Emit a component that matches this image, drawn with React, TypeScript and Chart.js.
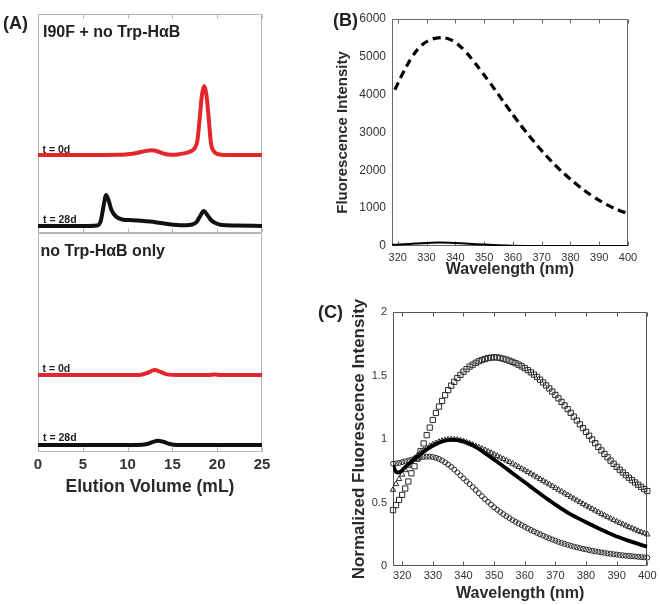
import React, { useEffect, useRef } from 'react';
import { Chart, registerables } from 'chart.js';
Chart.register(...registerables);

const FONT = '"Liberation Sans", Arial, Helvetica, sans-serif';

// ---------- Panel A (elution profiles) ----------
const elutionTicks = [0, 5, 10, 15, 20, 25];
const redTopX = [0, 5, 9, 10, 11, 12, 12.7, 13.4, 14.1, 14.8, 15.6, 16.3, 17.0, 17.5, 17.8, 18.05, 18.3, 18.55, 18.8, 19.05, 19.3, 19.6, 20.0, 21, 25];
const redTopY = [78, 78, 78.2, 78.8, 80, 82, 82.8, 81.5, 79.2, 78.3, 78.6, 79.6, 81.5, 85, 93, 115, 138, 147, 138, 115, 90, 82, 79, 78, 78];
const blackTopX = [0, 5, 6.6, 7.0, 7.3, 7.6, 7.9, 8.2, 8.7, 9.4, 10.5, 11.5, 12.5, 13.5, 14.5, 15.5, 16.5, 17.2, 17.7, 18.1, 18.5, 18.9, 19.3, 19.8, 20.5, 22, 25];
const blackTopY = [7, 7, 7.5, 12, 26, 38, 32, 23, 16.5, 13.5, 12.8, 12.3, 11.5, 10.3, 9, 8, 7.8, 8.5, 11, 17, 22, 18, 13, 10, 8, 7.5, 7];
const redBottomX = [0, 10, 11.5, 12.3, 13.0, 13.7, 14.4, 15.5, 19, 19.7, 20.4, 25];
const redBottomY = [77, 77, 77.3, 79.5, 82, 80, 77.6, 77, 77, 77.6, 77, 77];
const blackBottomX = [0, 11, 12.2, 12.8, 13.4, 14.0, 14.7, 15.5, 25];
const blackBottomY = [7, 7, 8, 10, 11.3, 10.2, 8, 7, 7];

// ---------- Panel B (fluorescence intensity) ----------
const wavelengthTicks = [320, 330, 340, 350, 360, 370, 380, 390, 400];
const bDashedX = [319, 322, 325, 328, 331, 334, 337, 340, 343, 346, 349, 352, 355, 358, 361, 364, 367, 370, 373, 376, 379, 382, 385, 388, 391, 394, 397, 400];
const bDashedY = [4130, 4600, 5000, 5280, 5440, 5500, 5490, 5380, 5180, 4920, 4620, 4320, 4000, 3680, 3370, 3070, 2790, 2520, 2270, 2040, 1830, 1640, 1460, 1300, 1160, 1040, 940, 860];
const bSolidX = [318, 322, 326, 330, 334, 338, 342, 346, 350, 355, 360, 370, 400];
const bSolidY = [30, 45, 65, 82, 90, 85, 72, 55, 38, 20, 8, 2, 0];

// ---------- Panel C (normalized fluorescence) ----------
const cWavelengths = [
  317, 318, 319, 320, 321, 322, 323, 324, 325, 326,
  327, 328, 329, 330, 331, 332, 333, 334, 335, 336,
  337, 338, 339, 340, 341, 342, 343, 344, 345, 346,
  347, 348, 349, 350, 351, 352, 353, 354, 355, 356,
  357, 358, 359, 360, 361, 362, 363, 364, 365, 366,
  367, 368, 369, 370, 371, 372, 373, 374, 375, 376,
  377, 378, 379, 380, 381, 382, 383, 384, 385, 386,
  387, 388, 389, 390, 391, 392, 393, 394, 395, 396,
  397, 398, 399, 400,
];
const cSquares = [
  0.44, 0.48, 0.52, 0.56, 0.61, 0.665, 0.73, 0.785, 0.845, 0.905,
  0.965, 1.03, 1.09, 1.15, 1.205, 1.255, 1.30, 1.345, 1.385, 1.42,
  1.45, 1.48, 1.505, 1.53, 1.55, 1.57, 1.585, 1.60, 1.612, 1.622,
  1.63, 1.637, 1.641, 1.643, 1.642, 1.638, 1.632, 1.625, 1.617, 1.607,
  1.597, 1.585, 1.572, 1.558, 1.542, 1.525, 1.507, 1.488, 1.467, 1.445,
  1.422, 1.398, 1.373, 1.347, 1.32, 1.292, 1.264, 1.235, 1.206, 1.176,
  1.146, 1.116, 1.086, 1.056, 1.026, 0.996, 0.967, 0.938, 0.91, 0.883,
  0.856, 0.83, 0.805, 0.781, 0.758, 0.736, 0.715, 0.695, 0.676, 0.658,
  0.64, 0.623, 0.606, 0.59,
];
const cTriangles = [
  0.60, 0.645, 0.685, 0.72, 0.755, 0.79, 0.82, 0.848, 0.872, 0.893,
  0.912, 0.928, 0.944, 0.957, 0.968, 0.978, 0.986, 0.992, 0.996, 0.998,
  0.997, 0.994, 0.989, 0.982, 0.974, 0.965, 0.955, 0.945, 0.935, 0.924,
  0.913, 0.902, 0.891, 0.879, 0.867, 0.855, 0.843, 0.831, 0.819, 0.806,
  0.793, 0.78, 0.767, 0.754, 0.74, 0.727, 0.713, 0.699, 0.685, 0.671,
  0.657, 0.643, 0.629, 0.615, 0.601, 0.587, 0.573, 0.559, 0.545, 0.531,
  0.517, 0.503, 0.489, 0.476, 0.463, 0.45, 0.437, 0.424, 0.411, 0.399,
  0.387, 0.375, 0.363, 0.351, 0.34, 0.329, 0.318, 0.307, 0.297, 0.287,
  0.277, 0.267, 0.258, 0.249,
];
const cCircles = [
  0.805, 0.808, 0.812, 0.818, 0.824, 0.83, 0.837, 0.844, 0.85, 0.855,
  0.859, 0.861, 0.861, 0.858, 0.852, 0.843, 0.831, 0.816, 0.799, 0.78,
  0.759, 0.737, 0.713, 0.69, 0.667, 0.645, 0.622, 0.598, 0.574, 0.55,
  0.527, 0.505, 0.483, 0.462, 0.443, 0.425, 0.408, 0.392, 0.377, 0.362,
  0.348, 0.335, 0.322, 0.309, 0.296, 0.284, 0.272, 0.261, 0.25, 0.239,
  0.228, 0.218, 0.208, 0.199, 0.19, 0.182, 0.174, 0.167, 0.16, 0.153,
  0.147, 0.141, 0.135, 0.13, 0.125, 0.12, 0.115, 0.111, 0.107, 0.103,
  0.099, 0.096, 0.093, 0.09, 0.087, 0.084, 0.081, 0.079, 0.077, 0.075,
  0.072, 0.07, 0.068, 0.066,
];
const cLine = [
  0.79, 0.74, 0.735, 0.755, 0.778, 0.80, 0.822, 0.843, 0.863, 0.882,
  0.90, 0.917, 0.933, 0.947, 0.96, 0.971, 0.98, 0.987, 0.991, 0.993,
  0.993, 0.991, 0.987, 0.981, 0.973, 0.963, 0.951, 0.937, 0.922, 0.906,
  0.889, 0.872, 0.855, 0.838, 0.821, 0.803, 0.785, 0.767, 0.749, 0.731,
  0.713, 0.695, 0.677, 0.659, 0.641, 0.623, 0.605, 0.587, 0.569, 0.551,
  0.534, 0.517, 0.5, 0.483, 0.467, 0.451, 0.436, 0.421, 0.407, 0.394,
  0.381, 0.369, 0.357, 0.345, 0.333, 0.321, 0.309, 0.297, 0.286, 0.275,
  0.264, 0.253, 0.243, 0.233, 0.224, 0.215, 0.206, 0.198, 0.19, 0.182,
  0.174, 0.166, 0.159, 0.152,
];

const pts = (xs: number[], ys: number[]) => xs.map((x, i) => ({ x, y: ys[i] }));

const RED = '#e3262b';
const BLACK = '#111111';

const framePlugin = {
  id: 'frame',
  beforeDatasetsDraw(chart: any, _args: any, opts: any) {
    if (!opts || !opts.on) return;
    const { ctx, chartArea: a } = chart;
    const xs = chart.scales.x;
    const l = Math.round(a.left) + 0.5;
    const r = Math.round(a.right) - 0.5;
    const t = Math.round(a.top) + 0.5;
    const b = Math.round(a.bottom) - 0.5;
    ctx.save();
    ctx.strokeStyle = opts.color;
    ctx.lineWidth = 1;
    ctx.beginPath();
    if (opts.top) { ctx.moveTo(l, t); ctx.lineTo(r, t); }
    if (opts.bottom) { ctx.moveTo(l, b); ctx.lineTo(r, b); }
    ctx.moveTo(l, t); ctx.lineTo(l, b);
    ctx.moveTo(r, t); ctx.lineTo(r, b);
    const len = opts.len || 4;
    (opts.ticks || []).forEach((v: number) => {
      const x = Math.round(xs.getPixelForValue(v)) + 0.5;
      if (opts.tickTop) { ctx.moveTo(x, t); ctx.lineTo(x, t + len); }
      if (opts.tickBottom) { ctx.moveTo(x, b); ctx.lineTo(x, b - len); }
    });
    ctx.stroke();
    ctx.restore();
  },
};

const lineDs = (data: any[], color: string, width: number, extra: any = {}) => ({
  data,
  borderColor: color,
  borderWidth: width,
  pointRadius: 0,
  fill: false,
  cubicInterpolationMode: 'monotone',
  borderJoinStyle: 'round',
  ...extra,
});

const baseOpts = (padding: any) => ({
  responsive: false,
  maintainAspectRatio: false,
  animation: false,
  devicePixelRatio: 1,
  layout: { padding },
  events: [],
});

const plainNum = (v: any) => String(v);

function makeA(canvas: HTMLCanvasElement, bottom: boolean) {
  const datasets = bottom
    ? [lineDs(pts(redBottomX, redBottomY), RED, 4), lineDs(pts(blackBottomX, blackBottomY), BLACK, 4)]
    : [lineDs(pts(redTopX, redTopY), RED, 4), lineDs(pts(blackTopX, blackTopY), BLACK, 4)];
  const xScale: any = bottom
    ? {
        type: 'linear', min: 0, max: 25,
        display: true,
        grid: { display: false, drawTicks: false },
        border: { display: false },
        ticks: { stepSize: 5, padding: 4, color: '#333', font: { family: FONT, size: 15, weight: 'bold' }, maxRotation: 0, autoSkip: false },
        title: { display: true, text: 'Elution Volume (mL)', color: '#2a2a2a', padding: 0, font: { family: FONT, size: 17.5, weight: 'bold' } },
        afterFit: (s: any) => { s.height = 46; },
      }
    : { type: 'linear', min: 0, max: 25, display: false };
  return new Chart(canvas, {
    type: 'line',
    data: { datasets } as any,
    options: {
      ...baseOpts(bottom ? { left: 38, top: 233, right: 398, bottom: 107 } : { left: 38, top: 14, right: 398, bottom: 372 }),
      plugins: {
        legend: { display: false },
        tooltip: { enabled: false },
        frame: { on: true, color: '#b5b5b5', top: true, bottom: true, ticks: elutionTicks, tickTop: !bottom, tickBottom: true, len: 4 },
      },
      scales: {
        x: xScale,
        y: { type: 'linear', min: 0, max: 219, display: false },
      },
    } as any,
    plugins: [framePlugin as any],
  });
}

function makeB(canvas: HTMLCanvasElement) {
  return new Chart(canvas, {
    type: 'line',
    data: {
      datasets: [
        lineDs(pts(bDashedX, bDashedY), '#000', 3.2, { borderDash: [8, 5], cubicInterpolationMode: 'default', tension: 0.4 }),
        lineDs(pts(bSolidX, bSolidY), '#000', 2),
      ],
    } as any,
    options: {
      ...baseOpts({ left: 334, top: 19, right: 32, bottom: 326 }),
      plugins: {
        legend: { display: false },
        tooltip: { enabled: false },
        frame: { on: true, color: '#666', top: true, bottom: true, ticks: wavelengthTicks, tickTop: true, tickBottom: true, len: 4 },
      },
      scales: {
        x: {
          type: 'linear', min: 318, max: 400,
          grid: { display: false, drawTicks: false },
          border: { display: false },
          ticks: { stepSize: 10, includeBounds: false, padding: 5, color: '#333', font: { family: FONT, size: 11 }, maxRotation: 0, autoSkip: false, callback: plainNum },
          title: { display: true, text: 'Wavelength (nm)', color: '#2a2a2a', padding: 0, font: { family: FONT, size: 16, weight: 'bold' } },
          afterFit: (s: any) => { s.height = 33; },
        },
        y: {
          type: 'linear', min: 0, max: 6000,
          grid: { display: false, drawTicks: false },
          border: { display: false },
          ticks: { stepSize: 1000, padding: 6, color: '#333', font: { family: FONT, size: 12 }, callback: plainNum },
          title: { display: true, text: 'Fluorescence Intensity', color: '#2a2a2a', padding: 0, font: { family: FONT, size: 15, weight: 'bold' } },
          afterFit: (s: any) => { s.width = 58; },
        },
      },
    } as any,
    plugins: [framePlugin as any],
  });
}

function makeC(canvas: HTMLCanvasElement) {
  const marker = (ys: number[], style: string, r: number) => ({
    data: pts(cWavelengths, ys),
    showLine: false,
    pointStyle: style,
    pointRadius: r,
    pointBorderWidth: 1,
    pointBorderColor: '#2a2a2a',
    pointBackgroundColor: 'rgba(0,0,0,0)',
    borderColor: '#2a2a2a',
    backgroundColor: 'rgba(0,0,0,0)',
    clip: false,
  });
  return new Chart(canvas, {
    type: 'line',
    data: {
      datasets: [
        lineDs(pts(cWavelengths, cLine), '#000', 3.8, { cubicInterpolationMode: 'default', tension: 0 }),
        marker(cCircles, 'circle', 2.5),
        marker(cTriangles, 'triangle', 3.1),
        marker(cSquares, 'rect', 3.7),
      ],
    } as any,
    options: {
      ...baseOpts({ left: 349, top: 312, right: 10, bottom: 2 }),
      plugins: {
        legend: { display: false },
        tooltip: { enabled: false },
        frame: { on: true, color: '#555', top: true, bottom: true, ticks: wavelengthTicks, tickTop: true, tickBottom: true, len: 4 },
      },
      scales: {
        x: {
          type: 'linear', min: 317, max: 400,
          grid: { display: false, drawTicks: false },
          border: { display: false },
          ticks: { stepSize: 10, includeBounds: false, padding: 3.5, color: '#333', font: { family: FONT, size: 11 }, maxRotation: 0, autoSkip: false, callback: plainNum },
          title: { display: true, text: 'Wavelength (nm)', color: '#2a2a2a', padding: 0, font: { family: FONT, size: 16, weight: 'bold' } },
          afterFit: (s: any) => { s.height = 37; },
        },
        y: {
          type: 'linear', min: 0, max: 2,
          grid: { display: false, drawTicks: false },
          border: { display: false },
          ticks: { stepSize: 0.5, padding: 6, color: '#333', font: { family: FONT, size: 11 }, callback: plainNum },
          title: { display: true, text: 'Normalized Fluorescence Intensity', color: '#2a2a2a', padding: 0, font: { family: FONT, size: 17, weight: 'bold' } },
          afterFit: (s: any) => { s.width = 44; },
        },
      },
    } as any,
    plugins: [framePlugin as any],
  });
}

const Txt = ({ x, base, size, bold = true, children }: any) => (
  <div
    style={{
      position: 'absolute', left: x, top: base - 0.8465 * size, height: size,
      fontSize: size, lineHeight: `${size}px`, fontWeight: bold ? 'bold' : 'normal',
      fontFamily: FONT, whiteSpace: 'nowrap', color: '#222',
    }}
  >
    {children}
  </div>
);

const canvasStyle: React.CSSProperties = { position: 'absolute', left: 0, top: 0, width: 660, height: 605 };

export default function App() {
  const aTop = useRef<HTMLCanvasElement>(null);
  const aBot = useRef<HTMLCanvasElement>(null);
  const bRef = useRef<HTMLCanvasElement>(null);
  const cRef = useRef<HTMLCanvasElement>(null);

  useEffect(() => {
    const charts = [
      makeA(aTop.current!, false),
      makeA(aBot.current!, true),
      makeB(bRef.current!),
      makeC(cRef.current!),
    ];
    return () => charts.forEach((c) => c.destroy());
  }, []);

  return (
    <div style={{ position: 'absolute', left: 0, top: 0, width: 660, height: 605, background: '#fff', overflow: 'hidden' }}>
      <canvas ref={aTop} width={660} height={605} style={canvasStyle} />
      <canvas ref={aBot} width={660} height={605} style={canvasStyle} />
      <canvas ref={bRef} width={660} height={605} style={canvasStyle} />
      <canvas ref={cRef} width={660} height={605} style={canvasStyle} />
      <Txt x={3} base={29.5} size={18}>(A)</Txt>
      <Txt x={333} base={26.5} size={18}>(B)</Txt>
      <Txt x={318} base={318.5} size={18}>(C)</Txt>
      <Txt x={43} base={37.3} size={16}>I90F + no Trp-HαB</Txt>
      <Txt x={42.5} base={152.5} size={10.5}>t = 0d</Txt>
      <Txt x={43} base={222.5} size={10.5}>t = 28d</Txt>
      <Txt x={40.5} base={256.5} size={16}>no Trp-HαB only</Txt>
      <Txt x={42.5} base={371.5} size={10.5}>t = 0d</Txt>
      <Txt x={43} base={441} size={10.5}>t = 28d</Txt>
    </div>
  );
}
